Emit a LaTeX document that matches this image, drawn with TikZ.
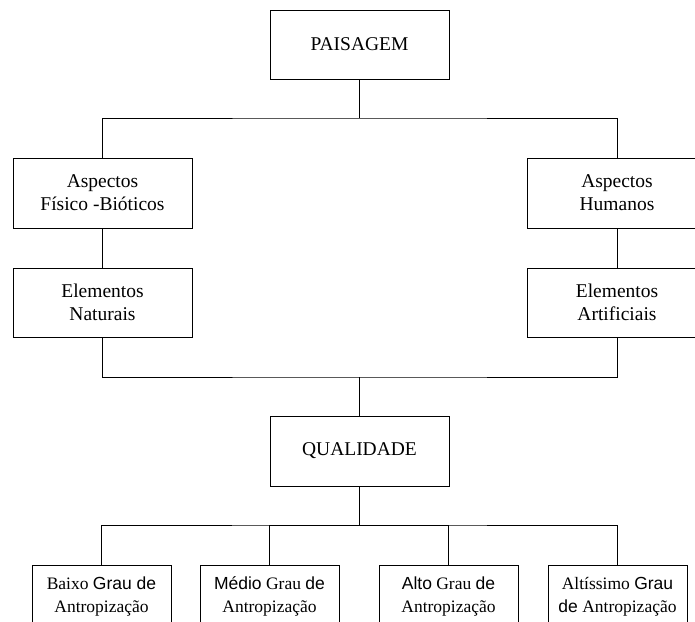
\documentclass[tikz,border=0pt]{standalone}
\usepackage{fontspec}
\setmainfont{Liberation Serif}
\newfontfamily\arialf{Liberation Sans}
\usetikzlibrary{positioning}

\begin{document}
\begin{tikzpicture}[x=1pt,y=-1pt,line width=0.9pt,
        every node/.style={font=\fontsize{19.5}{23}\selectfont},
        box/.style={draw,minimum width=179pt,minimum height=69pt,inner sep=0pt,align=center},
        grau/.style={draw,minimum width=139pt,minimum height=63pt,inner sep=0pt,align=center,
          font=\fontsize{17.5}{23}\selectfont}]
      \useasboundingbox (0,0) rectangle (695,621);
      \clip (0,0) rectangle (695,621);
      \node[box] (pai) at (359.5,44.5) {PAISAGEM};
      \node[box,minimum height=70pt] (fis) at (102.5,193) {Aspectos\\Físico -Bióticos};
      \node[box,minimum height=70pt] (hum) at (617,193)   {Aspectos\\Humanos};
      \node[box] (nat) at (102.5,302.5) {Elementos\\Naturais};
      \node[box] (art) at (617,302.5)   {Elementos\\Artificiais};
      \node[box,minimum height=70pt] (qua) at (359.5,451) {QUALIDADE};
      \node[grau] (baixo) at (101.5,596.5) {Baixo {\arialf Grau de}\\Antropização};
      \node[grau] (medio) at (269.5,596.5) {{\arialf Médio} Grau {\arialf de}\\Antropização};
      \node[grau] (alto)  at (448.5,596.5) {{\arialf Alto} Grau {\arialf de}\\Antropização};
      \node[grau] (altis) at (617.5,596.5) {Altíssimo {\arialf Grau}\\{\arialf de} Antropização};
      % junctions
      \coordinate (j1) at (359.5,118);
      \coordinate (j2) at (359.5,377);
      \coordinate (j3) at (359.5,525);
      \draw (pai.south)--(j1); \draw (fis.north) |- (j1) -| (hum.north);
      \draw (fis)--(nat); \draw (hum)--(art);
      \draw (nat.south) |- (j2) -| (art.south); \draw (j2)--(qua.north);
      \draw (qua.south)--(j3); \draw (baixo.north) |- (j3) -| (altis.north);
      \draw (medio.north) |- (j3); \draw (alto.north) |- (j3);
    \end{tikzpicture}
\end{document}
